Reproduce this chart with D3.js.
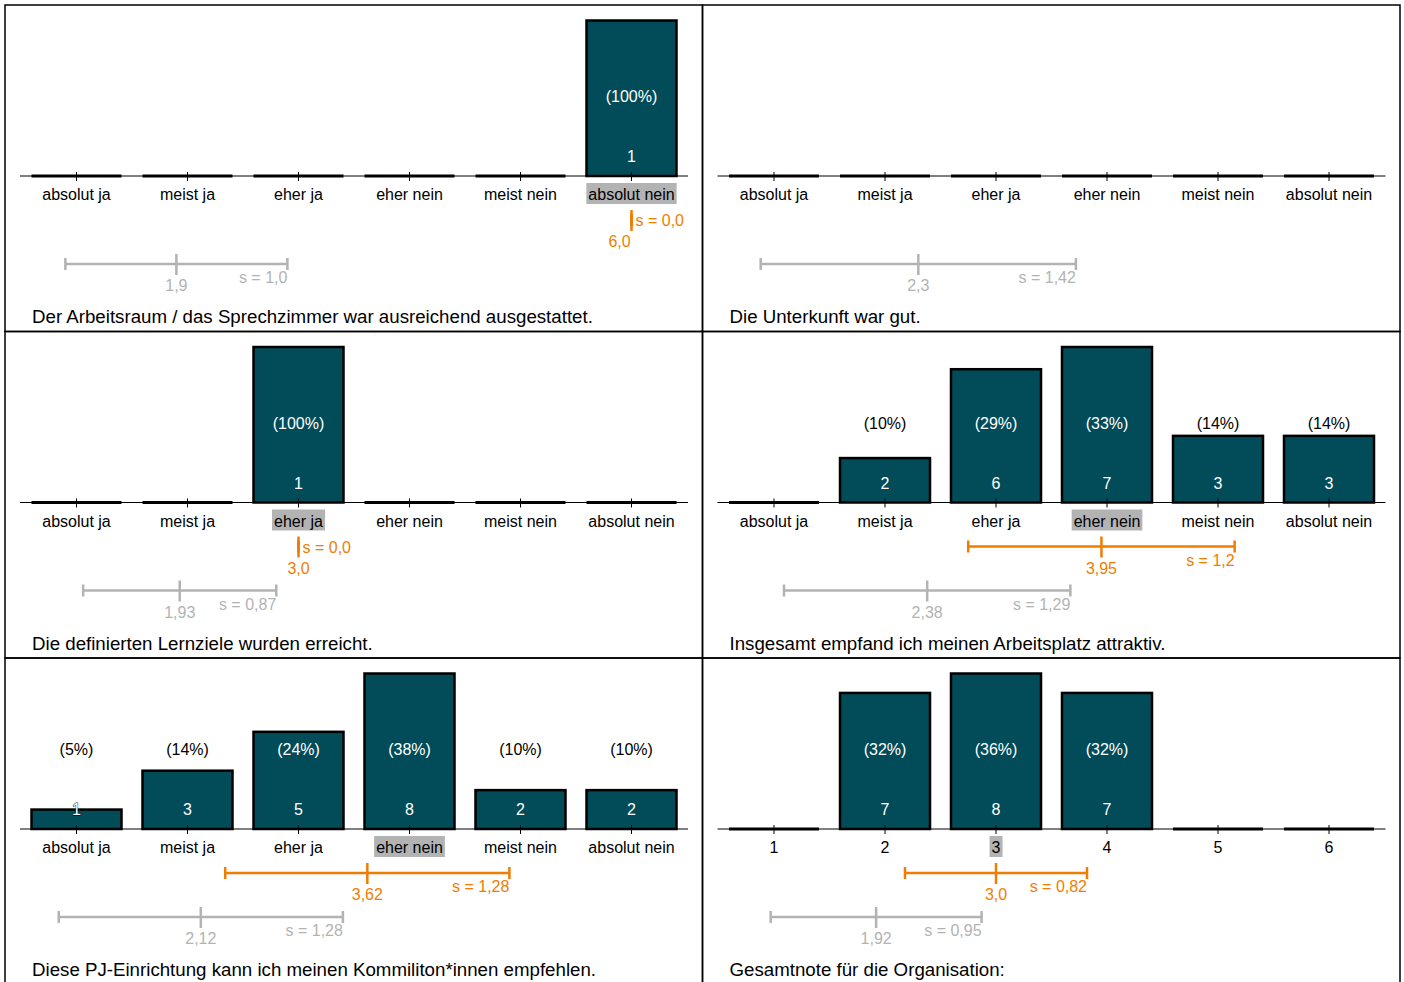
<!DOCTYPE html>
<html>
<head>
<meta charset="utf-8">
<script src="https://cdn.jsdelivr.net/npm/d3@7"></script>
<style>
  body { margin: 0; background: #fff; }
  text { font-family: "Liberation Sans", Arial, sans-serif; }
</style>
</head>
<body>
<div id="chart"></div>
<script>
// answer scale labels
var scaleLabels = ["absolut ja", "meist ja", "eher ja", "eher nein", "meist nein", "absolut nein"];
var gradeLabels = ["1", "2", "3", "4", "5", "6"];

var titles = [
    "Der Arbeitsraum / das Sprechzimmer war ausreichend ausgestattet.",
    "Die Unterkunft war gut.",
    "Die definierten Lernziele wurden erreicht.",
    "Insgesamt empfand ich meinen Arbeitsplatz attraktiv.",
    "Diese PJ-Einrichtung kann ich meinen Kommiliton*innen empfehlen.",
    "Gesamtnote für die Organisation:"
];
var useGrades = [false, false, false, false, false, true];

var counts = [
    [0, 0, 0, 0, 0, 1],
    [0, 0, 0, 0, 0, 0],
    [0, 0, 1, 0, 0, 0],
    [0, 2, 6, 7, 3, 3],
    [1, 3, 5, 8, 2, 2],
    [0, 7, 8, 7, 0, 0]
];
var medianIndex = [5, null, 2, 3, 3, 2];

// this evaluation (orange)
var means = [6.0, null, 3.0, 3.95, 3.62, 3.0];
var sds   = [0.0, null, 0.0, 1.2, 1.28, 0.82];

// comparison (grey)
var compMeans = [1.9, 2.3, 1.93, 2.38, 2.12, 1.92];
var compSds   = [1.0, 1.42, 0.87, 1.29, 1.28, 0.95];

function init(){
    var w = 1404;
    var h = 982;
    var pw = 697.5;
    var ph = 326.5;
    var left = 5;
    var top = 5;
    var base = 171;
    var barW = 90;
    var barColor = "#024b58";
    var orange = "#f07d00";
    var grey = "#b3b3b3";

    var svg = d3.select("#chart")
                .append("svg")
                .attr("width", w)
                .attr("height", h);

    var xscale = d3.scaleLinear()
                    .domain([1, 6])
                    .range([71.5, 626.5]);

    function fmt(v) {
        var s = v.toFixed(2);
        if (s.charAt(s.length - 1) === "0") s = v.toFixed(1);
        return s.replace(".", ",");
    }

    titles.forEach(function(title, p) {
        var col = p % 2;
        var row = Math.floor(p / 2);
        var g = svg.append("g")
                   .attr("transform", "translate(" + (left + col * pw) + "," + (top + row * ph) + ")");

        g.append("rect")
            .attr("x", 0)
            .attr("y", 0)
            .attr("width", pw)
            .attr("height", ph)
            .attr("fill", "none")
            .attr("stroke", "#000")
            .attr("stroke-width", 1.5);

        var data = counts[p];
        var total = d3.sum(data);
        var maxC = d3.max(data);
        var yscale = d3.scaleLinear()
                        .domain([0, maxC || 1])
                        .range([base, 15.5]);
        var labels = useGrades[p] ? gradeLabels : scaleLabels;

        // axis line
        g.append("line")
            .attr("x1", 15).attr("x2", 683)
            .attr("y1", base).attr("y2", base)
            .attr("stroke", "#000")
            .attr("stroke-width", 1);

        // bars
        data.forEach(function(c, i) {
            var cx = xscale(i + 1);
            if (c > 0) {
                g.append("rect")
                    .attr("x", cx - barW / 2)
                    .attr("y", yscale(c))
                    .attr("width", barW)
                    .attr("height", base - yscale(c))
                    .attr("fill", barColor)
                    .attr("stroke", "#000")
                    .attr("stroke-width", 2.5);
            } else {
                g.append("line")
                    .attr("x1", cx - barW / 2).attr("x2", cx + barW / 2)
                    .attr("y1", base).attr("y2", base)
                    .attr("stroke", "#000")
                    .attr("stroke-width", 3);
            }
        });

        // ticks
        g.selectAll(".tick")
            .data(labels)
            .enter()
            .append("line")
            .attr("x1", function(d, i) { return xscale(i + 1); })
            .attr("x2", function(d, i) { return xscale(i + 1); })
            .attr("y1", base - 4)
            .attr("y2", base + 5)
            .attr("stroke", "#000")
            .attr("stroke-width", 1);

        // bar labels
        if (total > 0) {
            data.forEach(function(c, i) {
                if (c === 0) return;
                var cx = xscale(i + 1);
                var hgt = base - yscale(c);
                g.append("text")
                    .attr("x", cx)
                    .attr("y", base - 74)
                    .attr("text-anchor", "middle")
                    .style("font-size", "16px")
                    .attr("fill", hgt > 88 ? "#fff" : "#000")
                    .text("(" + Math.round(c / total * 100) + "%)");
                var t = g.append("text")
                    .attr("x", cx)
                    .attr("y", base - 14)
                    .attr("text-anchor", "middle")
                    .style("font-size", "16px")
                    .attr("fill", "#fff")
                    .text(c);
                if (hgt < 28) {
                    t.attr("stroke", "#000")
                     .attr("stroke-width", 0.8)
                     .style("paint-order", "stroke");
                }
            });
        }

        // tick labels, median highlighted
        labels.forEach(function(lab, i) {
            var cx = xscale(i + 1);
            var t = g.append("text")
                .attr("x", cx)
                .attr("y", base + 24)
                .attr("text-anchor", "middle")
                .style("font-size", "16px")
                .attr("fill", "#000")
                .text(lab);
            if (medianIndex[p] === i) {
                var bb = t.node().getBBox();
                g.insert("rect", function() { return t.node(); })
                    .attr("x", bb.x - 2)
                    .attr("y", base + 7)
                    .attr("width", bb.width + 4)
                    .attr("height", 21)
                    .attr("fill", grey);
            }
        });

        // error bar helper
        function errBar(m, s, yy, color) {
            var x1 = xscale(m - s), x2 = xscale(m + s), xm = xscale(m);
            g.append("line")
                .attr("x1", x1).attr("x2", x2)
                .attr("y1", yy).attr("y2", yy)
                .attr("stroke", color).attr("stroke-width", 2.5);
            [x1, x2].forEach(function(xx) {
                g.append("line")
                    .attr("x1", xx).attr("x2", xx)
                    .attr("y1", yy - 6).attr("y2", yy + 6)
                    .attr("stroke", color).attr("stroke-width", 2.5);
            });
            g.append("line")
                .attr("x1", xm).attr("x2", xm)
                .attr("y1", yy - 10).attr("y2", yy + 11)
                .attr("stroke", color).attr("stroke-width", 2.5);
            g.append("text")
                .attr("x", Math.min(xm, xscale(6) - 12))
                .attr("y", yy + 27)
                .attr("text-anchor", "middle")
                .style("font-size", "16px")
                .attr("fill", color)
                .text(fmt(m));
            if (s === 0) {
                g.append("text")
                    .attr("x", xm + 4)
                    .attr("y", yy + 6)
                    .attr("text-anchor", "start")
                    .style("font-size", "16px")
                    .attr("fill", color)
                    .text("s = " + fmt(s));
            } else {
                g.append("text")
                    .attr("x", x2)
                    .attr("y", yy + 19)
                    .attr("text-anchor", "end")
                    .style("font-size", "16px")
                    .attr("fill", color)
                    .text("s = " + fmt(s));
            }
        }

        if (means[p] !== null) errBar(means[p], sds[p], base + 44, orange);
        errBar(compMeans[p], compSds[p], base + 88, grey);

        // question text
        g.append("text")
            .attr("x", 27)
            .attr("y", 318)
            .style("font-size", "18.7px")
            .attr("fill", "#000")
            .text(title);
    });
}
window.onload = init;
</script>
</body>
</html>
